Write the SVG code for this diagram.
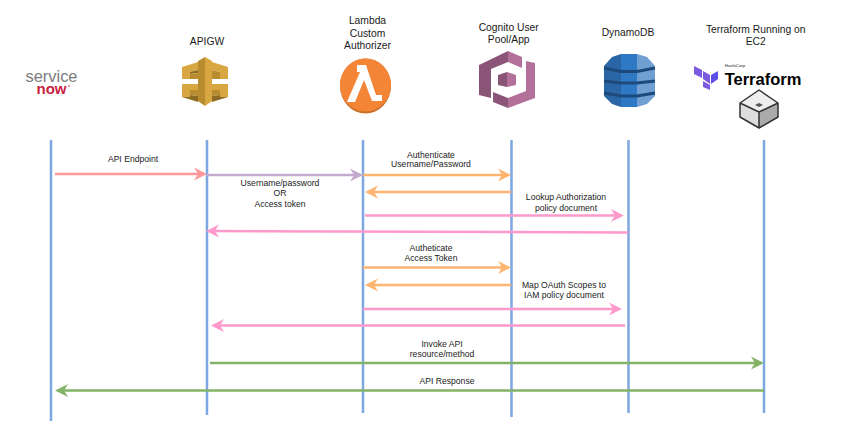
<svg xmlns="http://www.w3.org/2000/svg" width="856" height="429" viewBox="0 0 856 429">
<style>
text{font-family:"Liberation Sans",Arial,sans-serif;fill:#1a1a1a;text-anchor:middle}
.h{font-size:10.300px}
.l{font-size:8.600px}
.life{stroke:#7ea6e0;stroke-width:2.500;fill:none}
.a{fill:none;stroke-width:2.500}
.red{stroke:#ff9999}.pur{stroke:#c3abd0}.ora{stroke:#ffb570}.pin{stroke:#ff99cc}.gre{stroke:#82b366}
.g1{fill:#d9a741}.g2{fill:#b98d2f}.g3{fill:#8f6c24}
.c1{fill:#8b5578}.c2{fill:#b3719a}
.d1{fill:#2a66a6}.d2{fill:#2e78c4}.d3{fill:#6f9fd3}
.ds{fill:none;stroke:#1d4a7a;stroke-width:3}
.tf{fill:#7b5ae0}
</style>
<defs>
<marker id="mred" markerUnits="userSpaceOnUse" markerWidth="14" markerHeight="14" refX="10" refY="7" orient="auto"><path d="M0,0.500 L13,7 L0,13.500 L4,7Z" fill="#ff9999"/></marker>
<marker id="mpur" markerUnits="userSpaceOnUse" markerWidth="14" markerHeight="14" refX="10" refY="7" orient="auto"><path d="M0,0.500 L13,7 L0,13.500 L4,7Z" fill="#c3abd0"/></marker>
<marker id="mora" markerUnits="userSpaceOnUse" markerWidth="14" markerHeight="14" refX="10" refY="7" orient="auto"><path d="M0,0.500 L13,7 L0,13.500 L4,7Z" fill="#ffb570"/></marker>
<marker id="mpin" markerUnits="userSpaceOnUse" markerWidth="14" markerHeight="14" refX="10" refY="7" orient="auto"><path d="M0,0.500 L13,7 L0,13.500 L4,7Z" fill="#ff99cc"/></marker>
<marker id="mgre" markerUnits="userSpaceOnUse" markerWidth="14" markerHeight="14" refX="10" refY="7" orient="auto"><path d="M0,0.500 L13,7 L0,13.500 L4,7Z" fill="#82b366"/></marker>
</defs>

<g id="connectors">
<path class="life" d="M51,140V421"/>
<path class="life" d="M207,140V415"/>
<path class="life" d="M363,140V413"/>
<path class="life" d="M511.500,140V417"/>
<path class="life" d="M628.500,140V413"/>
<path class="life" d="M764,140V413"/>
<path class="a red" d="M55,174H204" marker-end="url(#mred)"/>
<path class="a pur" d="M207,175H360" marker-end="url(#mpur)"/>
<path class="a ora" d="M363,175H508" marker-end="url(#mora)"/>
<path class="a ora" d="M511,192H368" marker-end="url(#mora)"/>
<path class="a pin" d="M365,215.500H621" marker-end="url(#mpin)"/>
<path class="a pin" d="M628,232.500L209,231" marker-end="url(#mpin)"/>
<path class="a ora" d="M363,267.500H508" marker-end="url(#mora)"/>
<path class="a ora" d="M511,285H368" marker-end="url(#mora)"/>
<path class="a pin" d="M363,309H619" marker-end="url(#mpin)"/>
<path class="a pin" d="M625,325.500H214" marker-end="url(#mpin)"/>
<path class="a gre" d="M210,363H761" marker-end="url(#mgre)"/>
<path class="a gre" d="M764,390.500H58" marker-end="url(#mgre)"/>
</g>

<g id="labels">
<text class="l" x="133" y="162">API Endpoint</text>
<text class="l" x="280" y="186">Username/password</text>
<text class="l" x="280" y="196">OR</text>
<text class="l" x="280" y="207">Access token</text>
<text class="l" x="431" y="158">Authenticate</text>
<text class="l" x="431" y="167">Username/Password</text>
<text class="l" x="566" y="200">Lookup Authorization</text>
<text class="l" x="566" y="210.500">policy document</text>
<text class="l" x="431" y="251">Autheticate</text>
<text class="l" x="431" y="261">Access Token</text>
<text class="l" x="564" y="288">Map OAuth Scopes to</text>
<text class="l" x="564" y="298">IAM policy document</text>
<text class="l" x="442" y="347">Invoke API</text>
<text class="l" x="442" y="357">resource/method</text>
<text class="l" x="447" y="384">API Response</text>
</g>

<g id="servicenow">
<text><tspan x="51.500" y="81.500" style="font-size:16.400px;fill:#7b7b7b">service</tspan><tspan x="51.500" y="93.500" style="font-size:15px;font-weight:bold;fill:#c8223f">now</tspan></text>
<circle cx="69" cy="86" r="0.800" fill="#c8223f"/>
</g>

<g id="apigw">
<text class="h" x="207" y="45">APIGW</text>
<path class="g1" d="M182,67L198,62V70L190,72V79H182Z"/>
<path class="g3" d="M190,72L198,70V73L190,74Z"/>
<path class="g2" d="M190,74L198,73V79H190Z"/>
<path class="g1" d="M182,84H198V90H190V97H182Z"/>
<path class="g2" d="M190,90H198V96L190,95Z"/>
<path class="g3" d="M190,95L198,96V102L182,97H190Z"/>
<path class="g1" d="M228,67L212,62V70L220,72V79H228Z"/>
<path class="g2" d="M220,72L212,70V79H220Z"/>
<path class="g1" d="M228,84H212V90H220V97H228Z"/>
<path class="g2" d="M220,90H212V96L220,95Z"/>
<path class="g3" d="M220,95L212,96V102L228,97H220Z"/>
<path class="g2" d="M198,61L205,57V106L198,101Z"/>
<path class="g1" d="M205,57L212,61V101L205,106Z"/>
</g>

<g id="lambda">
<text class="h" x="367.500" y="24">Lambda</text>
<text class="h" x="367.500" y="36.500">Custom</text>
<text class="h" x="367.500" y="49">Authorizer</text>
<ellipse cx="365.500" cy="86" rx="25.500" ry="27.500" fill="#c9712a"/>
<ellipse cx="365.500" cy="85" rx="25.500" ry="26.500" fill="#f58536"/>
<path d="M357,65H366L376,95H382V101H372L364,80L355,102H347L360,72H357Z" fill="#fff"/>
</g>

<g id="cognito">
<text class="h" x="508.700" y="31">Cognito User</text>
<text class="h" x="508.700" y="43">Pool/App</text>
<path class="c1" d="M479,65L508,51V62L491,69V98L479,95Z"/>
<path class="c2" d="M508,51L522,57V68L508,62Z"/>
<path class="c1" d="M493,92L508,98V108L493,102Z"/>
<path class="c2" d="M508,98L526,91V61L535,63V98L508,108Z"/>
<path class="c1" d="M498,75L507,72V87L498,85Z"/>
<path class="c2" d="M507,72L516,75V85L507,87Z"/>
</g>

<g id="dynamodb">
<text class="h" x="628" y="36">DynamoDB</text>
<path class="d1" d="M604,66L612,57L621,54V107L612,104L604,96Z"/>
<path class="d2" d="M621,54H637V107H621Z"/>
<path class="d3" d="M637,54L647,57L655,66V96L647,104L637,107Z"/>
<path class="ds" d="M604,68L621,71.500H637L655,68"/>
<path class="ds" d="M604,81L621,83H637L655,81"/>
<path class="ds" d="M604,93L621,96H637L655,93"/>
</g>

<g id="terraform">
<text class="h" x="755.700" y="33">Terraform Running on</text>
<text class="h" x="755.700" y="45">EC2</text>
<path class="tf" d="M694,66L702,70V78L694,74Z"/>
<path class="tf" d="M703,71L710,75V84L703,79Z"/>
<path d="M711,75L718,71V79L711,84Z" fill="#5c4ee5"/>
<path class="tf" d="M703,81L710,85V90L703,87Z"/>
<text x="735" y="67" style="font-size:4.300px">HashiCorp</text>
<text x="763" y="85" style="font-size:16.500px;font-weight:bold;fill:#000">Terraform</text>
<path d="M759,90L778,103V117L759,128L740,117V103Z" fill="#ddd"/>
<path d="M759,90L778,103L759,112L740,103Z" fill="#eee"/>
<path d="M759,112L778,103V117L759,128Z" fill="#aaa"/>
<path d="M759,90L778,103V117L759,128L740,117V103ZM740,103L759,112L778,103M759,112V128" fill="none" stroke="#333" stroke-width="1.500" stroke-linejoin="round"/>
<path d="M755,105L759,103L763,105L759,107Z" fill="#555"/>
</g>
</svg>
